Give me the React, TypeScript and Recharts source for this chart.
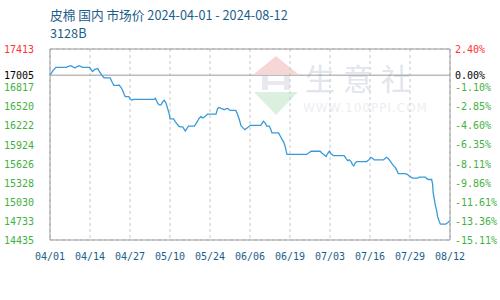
import React from "react";
import { LineChart, Line, XAxis, YAxis, CartesianGrid, ReferenceLine } from "recharts";

// day offsets from 2024-04-01 and price values (vertices)
const days = [
  0, 1, 2, 5.5, 5.9, 7, 7.5, 8.3, 9, 9.7, 10.3, 10.9, 13.2, 14.1, 14.9, 15.9, 16.4, 17.2, 18, 20,
  20.8, 21.2, 22.7, 23, 23.6, 24.2, 24.7, 25, 26.2, 26.6, 27.3, 27.7, 34.7, 35, 35.8, 36.3, 36.9, 37.5, 38, 38.6,
  39.1, 39.7, 39.9, 41.1, 41.7, 42.2, 42.8, 43.3, 44.1, 44.6, 45, 45.4, 46, 48, 48.5, 49.1, 49.6, 50.2, 50.8, 51.3,
  51.9, 52.4, 55.2, 55.7, 56.1, 56.8, 57.4, 57.9, 58.5, 59.1, 59.8, 61.8, 62.4, 62.9, 63.5, 64.1, 64.8, 65.4, 66.3, 66.5,
  70.1, 70.7, 71, 71.6, 72.1, 72.9, 73.5, 73.8, 76, 76.6, 77.1, 77.7, 78.2, 78.5, 78.8, 85.4, 86, 86.8, 89.8, 90.4,
  91.2, 91.8, 92.3, 92.9, 93.4, 94.2, 97.8, 98.4, 99, 99.5, 100.1, 100.6, 101, 101.5, 102, 105.3, 106, 106.7, 107.3, 107.8,
  110.8, 111.5, 111.9, 112.5, 113, 113.7, 114.3, 114.8, 115.4, 115.8, 118.1, 118.9, 119.4, 120, 120.6, 122.2, 122.8, 124.8, 125.3, 125.9,
  126.9, 127.2, 127.4, 127.8, 128.1, 128.6, 128.9, 129.4, 129.8, 131.6, 132.2, 133,
];
const prices = [
  17005, 17076, 17126, 17126, 17139, 17153, 17139, 17117, 17139, 17153, 17139, 17126, 17126, 17063, 17094, 17107, 17063, 17005, 16964, 16964,
  16883, 16847, 16847, 16851, 16816, 16762, 16703, 16672, 16672, 16635, 16614, 16627, 16627, 16645, 16568, 16541, 16541, 16591, 16614, 16568,
  16487, 16389, 16322, 16322, 16277, 16245, 16210, 16200, 16200, 16164, 16133, 16164, 16210, 16210, 16245, 16291, 16335, 16358, 16339, 16352,
  16375, 16398, 16398, 16479, 16501, 16487, 16479, 16466, 16479, 16487, 16456, 16456, 16389, 16322, 16218, 16187, 16156, 16177, 16210, 16223,
  16223, 16268, 16285, 16254, 16210, 16210, 16150, 16106, 16106, 16052, 16008, 15962, 15894, 15827, 15769, 15769, 15792, 15819, 15819, 15792,
  15760, 15738, 15783, 15819, 15783, 15752, 15752, 15708, 15671, 15684, 15657, 15611, 15590, 15638, 15657, 15657, 15684, 15725, 15706, 15684,
  15684, 15711, 15725, 15702, 15671, 15625, 15590, 15567, 15513, 15469, 15469, 15455, 15432, 15415, 15401, 15401, 15415, 15415, 15392, 15378,
  15378, 15311, 15176, 15064, 14983, 14884, 14795, 14727, 14682, 14682, 14704, 14735,
];

const xTickLabels = ["04/01", "04/14", "04/27", "05/10", "05/24", "06/06", "06/19", "07/03", "07/16", "07/29", "08/12"];
const totalDays = 133;
const leftTicks = [14435, 14733, 15030, 15328, 15626, 15924, 16222, 16520, 16817, 17005, 17115, 17413];
const hiddenLeft = [17115];
const baseValue = 17005;
const rightTicks = [2.4, 0, -1.1, -2.85, -4.6, -6.35, -8.11, -9.86, -11.61, -13.36, -15.11];

const data = days.map((d, i) => ({ d, v: prices[i] }));
const xTicks = xTickLabels.map((_, i) => (i * totalDays) / (xTickLabels.length - 1));
const yMin = leftTicks[0];
const yMax = leftTicks[leftTicks.length - 1];

const GREEN = "#3fb23f";
const RED = "#ff3333";
const MONO = "'DejaVu Sans Mono', monospace";

const LeftTick = (props: any) => {
  const { y, payload } = props;
  const v = payload.value;
  if (hiddenLeft.includes(v)) return null;
  const fill = v === yMax ? RED : v === baseValue ? "#000" : GREEN;
  return (
    <text x={34} y={y} dy={4} textAnchor="end" fontSize={10} fontFamily={MONO} fill={fill}>
      {v}
    </text>
  );
};

const RightTick = (props: any) => {
  const { y, payload } = props;
  const v = payload.value;
  const fill = v > 0 ? RED : v === 0 ? "#000" : GREEN;
  return (
    <text x={455} y={y} dy={4} textAnchor="start" fontSize={10} fontFamily={MONO} fill={fill}>
      {v.toFixed(2) + "%"}
    </text>
  );
};

const BottomTick = (props: any) => {
  const { x, y, index } = props;
  return (
    <text x={x} y={y} dy={12} textAnchor="middle" fontSize={10} fontFamily={MONO} fill="#1b5e8a">
      {xTickLabels[index]}
    </text>
  );
};

const Watermark = () => (
  <svg width={500} height={300} style={{ position: "absolute", left: 0, top: 0 }}>
    <polygon points="254,74 276,56 298,74" fill="#f7d6d6" />
    <rect x={262} y={76} width={6} height={14} fill="#e8e8ee" />
    <rect x={284} y={76} width={6} height={14} fill="#e8e8ee" />
    <rect x={262} y={81} width={28} height={4} fill="#e8e8ee" />
    <polygon points="254,92 298,92 276,115" fill="#dcf0e0" />
    <text x={305} y={90} fontSize={30} fontFamily="'Noto Sans CJK SC'" fill="#e2e5ee" letterSpacing={8}>
      生意社
    </text>
    <text x={303} y={112} fontSize={12} fontFamily="'DejaVu Sans'" fill="#eceef3" letterSpacing={1}>
      WWW.100PPI.COM
    </text>
  </svg>
);

export default function App() {
  return (
    <div style={{ position: "absolute", left: 0, top: 0, width: 500, height: 300, background: "#fff" }}>
      <Watermark />
      <svg width={500} height={45} style={{ position: "absolute", left: 0, top: 0 }}>
        <text x={50} y={20} fontSize={12.7} fontFamily="'Noto Sans CJK SC'" fill="#1b5e8a">
          皮棉 国内 市场价 2024-04-01 - 2024-08-12
        </text>
        <text x={50} y={38} fontSize={12.7} fontFamily="'Noto Sans CJK SC'" fill="#1b5e8a">
          3128B
        </text>
      </svg>
      <div style={{ position: "absolute", left: 0, top: 0 }}>
        <LineChart width={500} height={300} data={data} margin={{ top: 49, right: 0, bottom: 30, left: 0 }}>
          <CartesianGrid stroke="#c8c8c8" strokeDasharray="3 3" verticalValues={xTicks} />
          <XAxis
            type="number"
            dataKey="d"
            domain={[0, totalDays]}
            ticks={xTicks}
            interval={0}
            tick={<BottomTick />}
            tickLine={false}
            axisLine={{ stroke: "#999" }}
            height={30}
          />
          <YAxis
            yAxisId="left"
            domain={[yMin, yMax]}
            ticks={leftTicks}
            interval={0}
            tick={<LeftTick />}
            tickLine={false}
            axisLine={{ stroke: "#999" }}
            width={50}
            allowDataOverflow
          />
          <YAxis
            yAxisId="right"
            orientation="right"
            domain={[rightTicks[rightTicks.length - 1], rightTicks[0]]}
            ticks={rightTicks}
            interval={0}
            tick={<RightTick />}
            tickLine={false}
            axisLine={{ stroke: "#999" }}
            width={50}
            allowDataOverflow
          />
          <ReferenceLine yAxisId="left" y={yMax} stroke="#999" />
          <ReferenceLine yAxisId="left" y={baseValue} stroke="#999" />
          <Line
            yAxisId="left"
            type="linear"
            dataKey="v"
            stroke="#3a9ad9"
            strokeWidth={1.3}
            dot={false}
            isAnimationActive={false}
          />
        </LineChart>
      </div>
    </div>
  );
}
